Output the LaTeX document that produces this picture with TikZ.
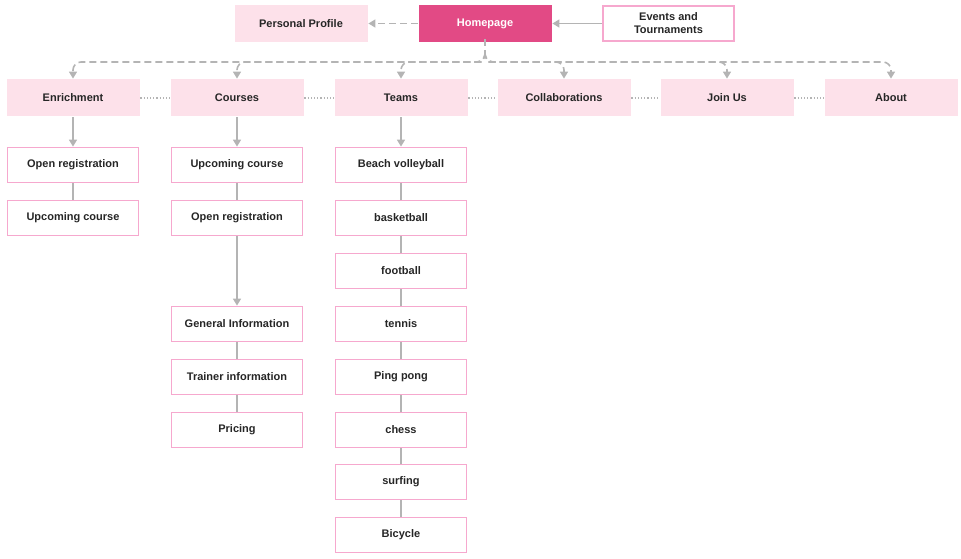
\documentclass[tikz,border=0pt]{standalone}
\usepackage{fontspec}
\setmainfont{Liberation Sans}
\usepackage{xcolor}
\usetikzlibrary{positioning,arrows.meta}
\definecolor{pinkfill}{HTML}{FDE1EA}
\definecolor{pinkline}{HTML}{F6A8CE}
\definecolor{hotpink}{HTML}{E24A85}
\definecolor{linkgray}{HTML}{B4B4B4}
\tikzset{
  box/.style={draw=pinkline, line width=1.8pt, fill=white, minimum width=131pt,
    minimum height=35pt, font=\bfseries\fontsize{11}{13}\selectfont, text=black!85, align=center},
  menu/.style={box, draw=none, fill=pinkfill, minimum width=133pt, minimum height=37pt},
  link/.style={draw=linkgray, line width=1.6pt},
  longdash/.style={dash pattern=on 7pt off 4pt},
  tip/.style={-{Triangle[length=7pt,width=8pt]}}
}
\begin{document}
\begin{tikzpicture}[x=1pt, y=-1pt]
      \useasboundingbox (0,0) rectangle (961,559);
      % top row
      \node[menu, fill=hotpink, text=white] (home)    at (485,23.5)  {Homepage};
      \node[menu]                           (profile) at (301,23.5)  {Personal Profile};
      \node[box]                            (events)  at (668.5,23.5) {Events and\\Tournaments};
      % main menu
      \node[menu] (enrich) at (73,98)  {Enrichment};
      \node[menu] (courses) at (237,98) {Courses};
      \node[menu] (teams)   at (401,98) {Teams};
      \node[menu] (collab)  at (564,98) {Collaborations};
      \node[menu] (join)    at (727,98) {Join Us};
      \node[menu] (about)   at (891,98) {About};
      % enrichment
      \node[box] (e1) at (73,165) {Open registration};
      \node[box] (e2) at (73,218) {Upcoming course};
      % courses
      \node[box] (c1) at (237,165) {Upcoming course};
      \node[box] (c2) at (237,218) {Open registration};
      \node[box] (c3) at (237,324) {General Information};
      \node[box] (c4) at (237,377) {Trainer information};
      \node[box] (c5) at (237,430) {Pricing};
      % teams
      \node[box] (t1) at (401,165) {Beach volleyball};
      \node[box] (t2) at (401,218) {basketball};
      \node[box] (t3) at (401,271) {football};
      \node[box] (t4) at (401,324) {tennis};
      \node[box] (t5) at (401,377) {Ping pong};
      \node[box] (t6) at (401,430) {chess};
      \node[box] (t7) at (401,482) {surfing};
      \node[box] (t8) at (401,535) {Bicycle};

      \draw[link, longdash, tip] (home) -- (profile);
      \draw[link, tip] (events) -- (home);
      \coordinate (split) at (485,62);
      \draw[link, longdash] ([yshift=4pt]home.south) -- (485,52);
      \foreach \n in {enrich,courses,teams} {
        \draw[link, longdash, tip, rounded corners=8pt] (485,52) |- ([xshift=-10pt]split) -| (\n.north);
      }
      \foreach \n in {collab,join,about} {
        \draw[link, longdash, tip, rounded corners=8pt] (485,52) |- ([xshift=10pt]split) -| (\n.north);
      }
      \foreach \a/\b in {enrich/courses,courses/teams,teams/collab,collab/join,join/about}
        \draw[link, line width=1.2pt, dotted] (\a) -- (\b);
      \draw[link, tip] (enrich) -- (e1);
      \draw[link, tip] (courses) -- (c1);
      \draw[link, tip] (teams) -- (t1);
      \draw[link, tip] (c2) -- (c3);
      \draw[link] (e1) -- (e2);
      \draw[link] (c1) -- (c2);
      \draw[link] (c3) -- (c4);
      \draw[link] (c4) -- (c5);
      \foreach \a/\b in {t1/t2,t2/t3,t3/t4,t4/t5,t5/t6,t6/t7,t7/t8}
        \draw[link] (\a) -- (\b);
\end{tikzpicture}
\end{document}
